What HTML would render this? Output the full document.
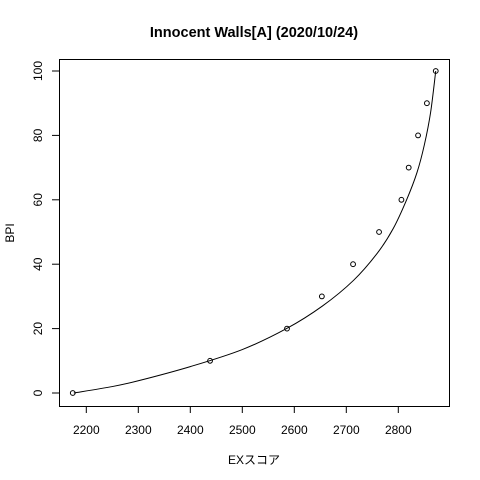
<!DOCTYPE html>
<html><head><meta charset="utf-8"><style>
html,body{margin:0;padding:0;background:#fff;}
svg{display:block;font-family:"Liberation Sans","Noto Sans CJK JP",sans-serif;}
</style></head><body>
<svg id="chart" width="480" height="480" viewBox="0 0 480 480">
<text x="254" y="37" text-anchor="middle" font-size="14.5" font-weight="bold">Innocent Walls[A] (2020/10/24)</text>
<rect x="59.5" y="59.5" width="390" height="347" fill="none" stroke="#000"/>
<text x="254" y="464" text-anchor="middle" font-size="12">EXスコア</text>
<text transform="translate(14,233) rotate(-90)" text-anchor="middle" font-size="12">BPI</text>
<g id="axes"></g><g id="marks"></g>
</svg>
<script>
const xTicks=[2200,2300,2400,2500,2600,2700,2800];
const yTicks=[0,20,40,60,80,100];
const scores=[2174,2438,2586,2653,2713,2763,2806,2820,2838,2855,2872];
const bpis=[0,10,20,30,40,50,60,70,80,90,100];
const curveScores=[2176,2250,2300,2400,2500,2585,2654,2714,2760,2790,2816,2836,2850,2862,2872];
const curveBpis=[0,2,3.8,8.2,13.5,20,27,35,43.5,51,60,68.5,77,87,100];
const NS="http://www.w3.org/2000/svg";
const X=v=>86.3+(v-2200)*0.52;
const Y=v=>393-v*3.22;
function mk(t,a,p){const e=document.createElementNS(NS,t);for(const k in a)e.setAttribute(k,a[k]);p.appendChild(e);return e;}
const ax=document.getElementById('axes'),mg=document.getElementById('marks');
xTicks.forEach(v=>{
 const l=mk('line',{x1:X(v),x2:X(v),y1:406,y2:413,stroke:'#000'},ax);
 
 
 const t=mk('text',{x:X(v),y:434,'text-anchor':'middle','font-size':12},ax);t.textContent=v;
 
 
});
yTicks.forEach(v=>{
 const l=mk('line',{x1:52,x2:59,y1:Y(v),y2:Y(v),stroke:'#000'},ax);
 
 
 const t=mk('text',{transform:`translate(42,${Y(v)}) rotate(-90)`,'text-anchor':'middle','font-size':12},ax);t.textContent=v;
 
 
});
const P=curveScores.map((s,i)=>[X(s),Y(curveBpis[i])]);
let d='M'+P[0][0]+','+P[0][1];
for(let i=0;i<P.length-1;i++){
 const p0=P[Math.max(i-1,0)],p1=P[i],p2=P[i+1],p3=P[Math.min(i+2,P.length-1)];
 const c1=[p1[0]+(p2[0]-p0[0])/6,p1[1]+(p2[1]-p0[1])/6];
 const c2=[p2[0]-(p3[0]-p1[0])/6,p2[1]-(p3[1]-p1[1])/6];
 d+=` C${c1[0]},${c1[1]} ${c2[0]},${c2[1]} ${p2[0]},${p2[1]}`;
}
const pl=mk('path',{d:d,fill:'none',stroke:'#000'},mg);


scores.forEach((s,i)=>{
 const c=mk('circle',{cx:X(s),cy:Y(bpis[i]),r:2.4,fill:'none',stroke:'#000'},mg);
 
 
});
</script>
</body></html>
